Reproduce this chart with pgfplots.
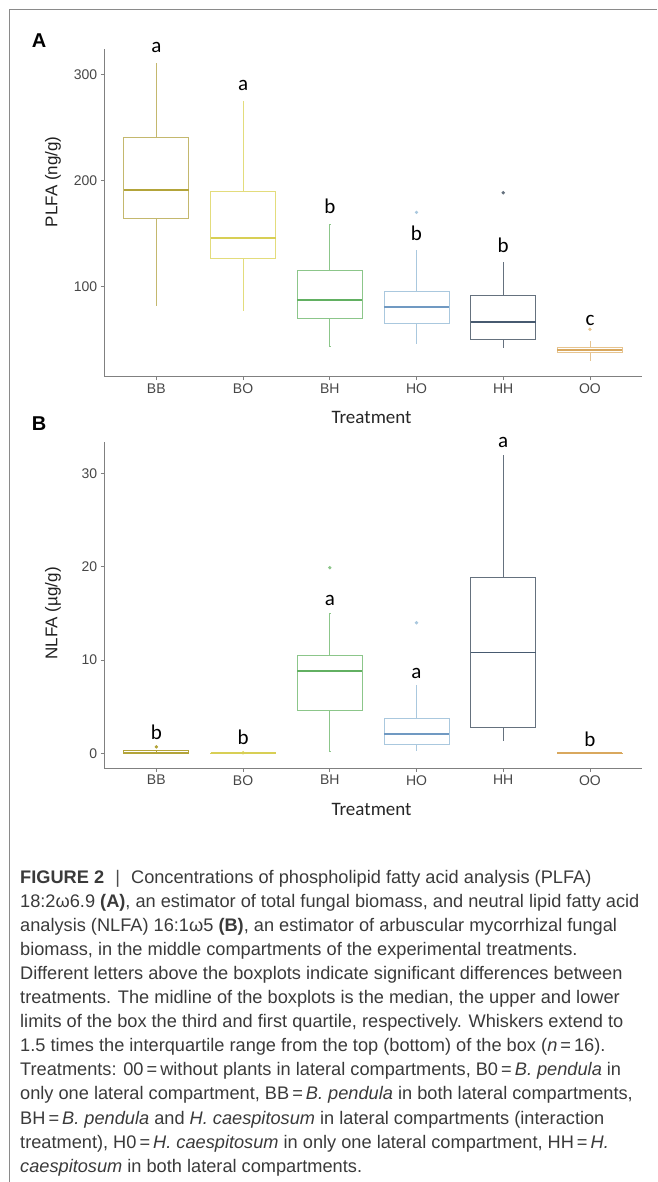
\documentclass[border=0pt]{standalone}
\usepackage{fontspec}
\setmainfont{Liberation Sans}
\newfontfamily\calibri{Carlito}
\usepackage{pgfplots}
\pgfplotsset{compat=1.18}
\usepgfplotslibrary{statistics}

\definecolor{cBB}{HTML}{C4B86E}
\definecolor{cBBm}{HTML}{B3A43A}
\definecolor{cBO}{HTML}{E3DC7C}
\definecolor{cBOm}{HTML}{D8CF55}
\definecolor{cBH}{HTML}{8CC68A}
\definecolor{cBHm}{HTML}{62B062}
\definecolor{cHO}{HTML}{AAC8DE}
\definecolor{cHOm}{HTML}{7099C2}
\definecolor{cHH}{HTML}{65717E}
\definecolor{cHHm}{HTML}{475A70}
\definecolor{cOO}{HTML}{E6C490}
\definecolor{cOOm}{HTML}{D9A85E}
\definecolor{capgrey}{HTML}{3A3A3A}
\definecolor{framegrey}{HTML}{8A8A8A}

\pgfplotsset{
  panel/.style={
    scale only axis, width=537.7pt,
    xmin=0.4, xmax=6.6,
    xtick={1,2,3,4,5,6}, xticklabels={BB,BO,BH,HO,HH,OO},
    axis x line*=bottom, axis y line*=left,
    axis line style={draw=black!50, line width=1.1pt, -},
    tick align=outside, major tick length=3.5pt,
    tick style={draw=black!50, line width=0.8pt},
    tick label style={font=\fontsize{14}{16}\selectfont, text=black!72},
    /pgf/number format/assume math mode=true,
    xlabel={Treatment},
    xlabel style={font=\calibri\fontsize{19}{22}\selectfont, text=black!85, anchor=center},
    ylabel style={font=\fontsize{17}{20}\selectfont, text=black!88, anchor=center},
    clip=false,
    boxplot/draw direction=y,
    boxplot/box extend=0.75,
    boxplot/whisker extend=0.001,
  },
  bx/.style 2 args={draw=#1, line width=0.9pt, mark=*, mark size=1.2pt,
    mark options={draw=#1, fill=#1, solid},
    boxplot/every median/.style={draw=#2, line width=1.7pt}},
}
\tikzset{
  lett/.style={font=\calibri\fontsize{21}{24}\selectfont, text=black, inner sep=0pt, anchor=center},
  plab/.style={font=\bfseries\fontsize{20}{22}\selectfont, inner sep=0pt, anchor=center},
}

\begin{document}
\begin{tikzpicture}
\path[use as bounding box] (0,0) rectangle (657pt,1182pt);
\draw[framegrey, line width=1pt] (9pt,0) -- (9pt,1172.5pt) -- (657pt,1172.5pt);

% ---------- panel A: PLFA ----------
\node[plab] at (39pt,1141.5pt) {A};
\begin{axis}[panel, at={(104.3pt,805.3pt)}, anchor=south west,
  height=327.7pt, ymin=15.3, ymax=323.8, ytick={100,200,300},
  ylabel={PLFA (ng/g)},
  ylabel style={at={(axis description cs:-0.0954,0.595)}},
  xlabel style={at={(axis description cs:0.497,-0.124)}},
]
\addplot[bx={cBB}{cBBm}, boxplot prepared={draw position=1,
  lower whisker=82.8, lower quartile=164, median=191.3, upper quartile=240.7, upper whisker=310.3}]
  coordinates {};
\addplot[bx={cBO}{cBOm}, boxplot prepared={draw position=2,
  lower whisker=78.1, lower quartile=126.7, median=145.6, upper quartile=189.5, upper whisker=274.2}]
  coordinates {};
\addplot[bx={cBH}{cBHm}, boxplot prepared={draw position=3,
  lower whisker=43.5, lower quartile=69.9, median=87.8, upper quartile=115.4, upper whisker=159}]
  coordinates {};
\addplot[bx={cHO}{cHOm}, boxplot prepared={draw position=4,
  lower whisker=46.7, lower quartile=65.2, median=80.6, upper quartile=95.7, upper whisker=133.9}]
  table[row sep=\\, y index=0] {170\\};
\addplot[bx={cHH}{cHHm}, boxplot prepared={draw position=5,
  lower whisker=42.9, lower quartile=50.5, median=66.5, upper quartile=91.9, upper whisker=122.6}]
  table[row sep=\\, y index=0] {188.5\\};
\addplot[bx={cOO}{cOOm}, boxplot prepared={draw position=6,
  lower whisker=30.3, lower quartile=37.9, median=40.4, upper quartile=42.9, upper whisker=48.6}]
  table[row sep=\\, y index=0] {59.9\\};
\node[lett] at (axis cs:1,324.8) {a};
\node[lett] at (axis cs:2,289.6) {a};
\node[lett] at (axis cs:3,175.7) {b};
\node[lett] at (axis cs:4,149.9) {b};
\node[lett] at (axis cs:5,139.0) {b};
\node[lett] at (axis cs:6,68.6) {c};
\end{axis}

% ---------- panel B: NLFA ----------
\node[plab] at (39pt,758.3pt) {B};
\begin{axis}[panel, at={(104.3pt,413.7pt)}, anchor=south west,
  height=326.6pt, ymin=-1.6, ymax=33.4, ytick={0,10,20,30},
  ylabel={NLFA (µg/g)},
  ylabel style={at={(axis description cs:-0.0954,0.4746)}},
  xlabel style={at={(axis description cs:0.497,-0.127)}},
]
\addplot[bx={cBBm}{cBBm}, boxplot prepared={draw position=1,
  lower whisker=0, lower quartile=0.01, median=0.1, upper quartile=0.28, upper whisker=0.29}]
  table[row sep=\\, y index=0] {0.7\\};
\addplot[bx={cBOm}{cBOm}, boxplot prepared={draw position=2,
  lower whisker=0, lower quartile=0.005, median=0.01, upper quartile=0.015, upper whisker=0.02}]
  table[row sep=\\, y index=0] {0.06\\};
\addplot[bx={cBH}{cBHm}, boxplot prepared={draw position=3,
  lower whisker=0.17, lower quartile=4.6, median=8.85, upper quartile=10.46, upper whisker=15.0}]
  table[row sep=\\, y index=0] {19.9\\};
\addplot[bx={cHO}{cHOm}, boxplot prepared={draw position=4,
  lower whisker=0.35, lower quartile=0.96, median=2.07, upper quartile=3.7, upper whisker=7.3}]
  table[row sep=\\, y index=0] {14.0\\};
\addplot[bx={cHH}{cHHm}, boxplot prepared={draw position=5,
  lower whisker=1.43, lower quartile=2.75, median=10.8, upper quartile=18.9, upper whisker=31.9}]
  coordinates {};
\addplot[bx={cOOm}{cOOm}, boxplot prepared={draw position=6,
  lower whisker=0, lower quartile=0.005, median=0.01, upper quartile=0.015, upper whisker=0.02}]
  coordinates {};
\node[lett] at (axis cs:1,2.31) {b};
\node[lett] at (axis cs:2,1.75) {b};
\node[lett] at (axis cs:3,16.34) {a};
\node[lett] at (axis cs:4,8.53) {a};
\node[lett] at (axis cs:5,33.27) {a};
\node[lett] at (axis cs:6,1.46) {b};
\end{axis}

% ---------- caption ----------
\node[anchor=north west, align=left, inner sep=0pt, text=capgrey,
      font=\fontsize{18.2}{24.1}\selectfont] at (20pt,312.3pt) {%
\textbf{FIGURE 2}\,\, {\color{black!70}|}\,\, Concentrations of phospholipid fatty acid analysis (PLFA)\\
18:2ω6.9 \textbf{(A)}, an estimator of total fungal biomass, and neutral lipid fatty acid\\
analysis (NLFA) 16:1ω5 \textbf{(B)}, an estimator of arbuscular mycorrhizal fungal\\
biomass, in the middle compartments of the experimental treatments.\\
Different letters above the boxplots indicate significant differences between\\
treatments. The midline of the boxplots is the median, the upper and lower\\
limits of the box the third and first quartile, respectively. Whiskers extend to\\
1.5 times the interquartile range from the top (bottom) of the box (\textit{n}\,=\,16).\\
Treatments: 00\,=\,without plants in lateral compartments, B0\,=\,\textit{B. pendula} in\\
only one lateral compartment, BB\,=\,\textit{B. pendula} in both lateral compartments,\\
BH\,=\,\textit{B. pendula} and \textit{H. caespitosum} in lateral compartments (interaction\\
treatment), H0\,=\,\textit{H. caespitosum} in only one lateral compartment, HH\,=\,\textit{H.}\\
\textit{caespitosum} in both lateral compartments.};
\end{tikzpicture}
\end{document}
